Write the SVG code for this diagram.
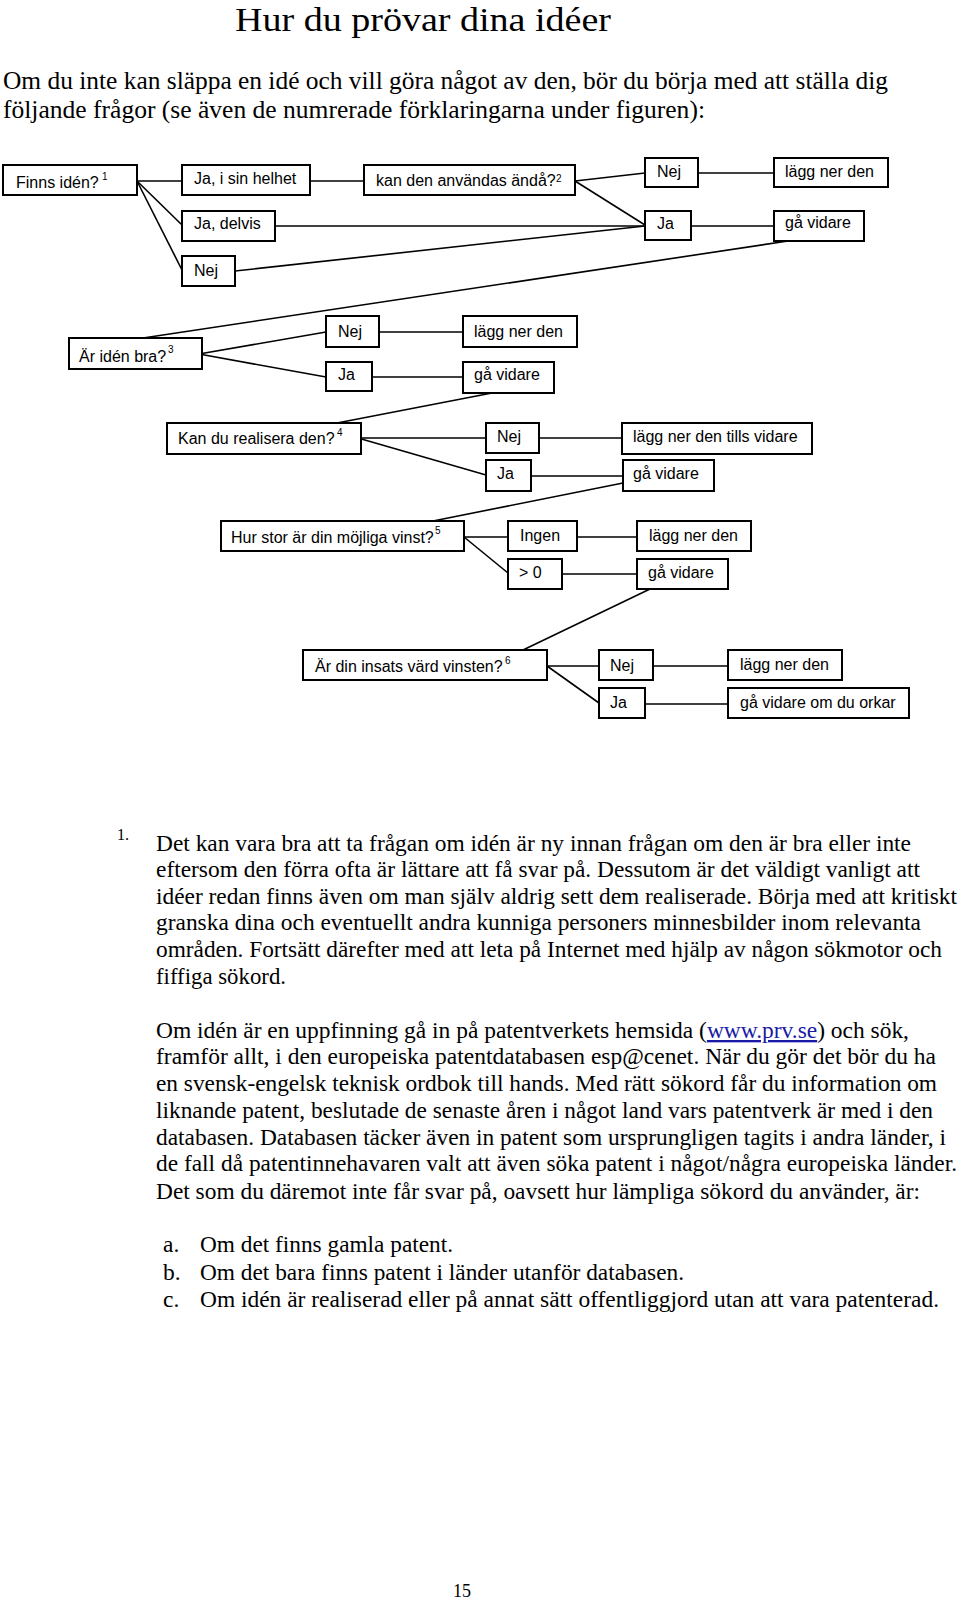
<svg xmlns="http://www.w3.org/2000/svg" width="960" height="1601" viewBox="0 0 960 1601">
<style>
rect.b{fill:#fff;stroke:#000;stroke-width:2}
text.t{font-family:"Liberation Sans",Arial,sans-serif;font-size:16px;fill:#000}
text.s{font-family:"Liberation Sans",Arial,sans-serif;font-size:10px;fill:#000}
text.p{font-family:"Liberation Serif","Times New Roman",serif;font-size:23.5px;fill:#000}
#connectors line{stroke:#000;stroke-width:1.6}
</style>
<rect width="960" height="1601" fill="#fff"/>
<text class="p" x="235" y="31" style="font-size:34px" textLength="376" lengthAdjust="spacingAndGlyphs">Hur du prövar dina idéer</text>
<text class="p" x="3" y="89" style="font-size:25.5px" textLength="885" lengthAdjust="spacingAndGlyphs">Om du inte kan släppa en idé och vill göra något av den, bör du börja med att ställa dig</text>
<text class="p" x="3" y="118" style="font-size:25.5px" textLength="702" lengthAdjust="spacingAndGlyphs">följande frågor (se även de numrerade förklaringarna under figuren):</text>
<g id="connectors">
<line x1="137" y1="181" x2="182" y2="181"/>
<line x1="137" y1="181" x2="182" y2="225"/>
<line x1="137" y1="181" x2="182" y2="270"/>
<line x1="310" y1="181" x2="364" y2="181"/>
<line x1="575" y1="181" x2="645" y2="173"/>
<line x1="575" y1="181" x2="645" y2="225"/>
<line x1="275" y1="226" x2="645" y2="226"/>
<line x1="235" y1="271" x2="645" y2="226"/>
<line x1="698" y1="173" x2="774" y2="173"/>
<line x1="691" y1="226" x2="774" y2="226"/>
<line x1="788" y1="241" x2="143" y2="338"/>
<line x1="199" y1="354" x2="326" y2="332"/>
<line x1="199" y1="354" x2="326" y2="377"/>
<line x1="379" y1="332" x2="463" y2="332"/>
<line x1="372" y1="377" x2="463" y2="377"/>
<line x1="492" y1="393" x2="337" y2="423"/>
<line x1="358" y1="438" x2="486" y2="438"/>
<line x1="358" y1="438" x2="486" y2="475"/>
<line x1="539" y1="438" x2="622" y2="438"/>
<line x1="531" y1="476" x2="623" y2="476"/>
<line x1="623" y1="483" x2="433" y2="521"/>
<line x1="464" y1="537" x2="508" y2="537"/>
<line x1="464" y1="537" x2="508" y2="573"/>
<line x1="577" y1="537" x2="637" y2="537"/>
<line x1="562" y1="574" x2="637" y2="574"/>
<line x1="650" y1="589" x2="523" y2="650"/>
<line x1="547" y1="666" x2="599" y2="666"/>
<line x1="547" y1="666" x2="599" y2="703"/>
<line x1="653" y1="666" x2="728" y2="666"/>
<line x1="645" y1="704" x2="728" y2="704"/>
</g>
<g id="n1"><rect class="b" x="3" y="165" width="134" height="30"/><text class="t" x="16" y="188">Finns idén?</text><text class="s" x="102" y="180">1</text></g>
<g id="n2"><rect class="b" x="182" y="165" width="128" height="30"/><text class="t" x="194" y="184">Ja, i sin helhet</text></g>
<g id="n3"><rect class="b" x="364" y="165" width="211" height="30"/><text class="t" x="376" y="186">kan den användas ändå?</text><text class="s" x="556" y="182">2</text></g>
<g id="n4"><rect class="b" x="645" y="158" width="53" height="29"/><text class="t" x="657" y="177">Nej</text></g>
<g id="n5"><rect class="b" x="774" y="158" width="114" height="29"/><text class="t" x="785" y="177">lägg ner den</text></g>
<g id="n6"><rect class="b" x="182" y="211" width="93" height="30"/><text class="t" x="194" y="229">Ja, delvis</text></g>
<g id="n7"><rect class="b" x="645" y="211" width="46" height="29"/><text class="t" x="657" y="229">Ja</text></g>
<g id="n8"><rect class="b" x="774" y="211" width="90" height="30"/><text class="t" x="785" y="228">gå vidare</text></g>
<g id="n9"><rect class="b" x="182" y="256" width="53" height="30"/><text class="t" x="194" y="276">Nej</text></g>
<g id="n10"><rect class="b" x="69" y="338" width="133" height="31"/><text class="t" x="79" y="362">Är idén bra?</text><text class="s" x="168" y="353">3</text></g>
<g id="n11"><rect class="b" x="326" y="316" width="53" height="31"/><text class="t" x="338" y="337">Nej</text></g>
<g id="n12"><rect class="b" x="326" y="362" width="46" height="29"/><text class="t" x="338" y="380">Ja</text></g>
<g id="n13"><rect class="b" x="463" y="316" width="114" height="31"/><text class="t" x="474" y="337">lägg ner den</text></g>
<g id="n14"><rect class="b" x="463" y="362" width="91" height="31"/><text class="t" x="474" y="380">gå vidare</text></g>
<g id="n15"><rect class="b" x="167" y="423" width="194" height="31"/><text class="t" x="178" y="444">Kan du realisera den?</text><text class="s" x="337" y="436">4</text></g>
<g id="n16"><rect class="b" x="486" y="423" width="53" height="30"/><text class="t" x="497" y="442">Nej</text></g>
<g id="n17"><rect class="b" x="622" y="423" width="190" height="31"/><text class="t" x="633" y="442">lägg ner den tills vidare</text></g>
<g id="n18"><rect class="b" x="486" y="460" width="45" height="31"/><text class="t" x="497" y="479">Ja</text></g>
<g id="n19"><rect class="b" x="623" y="460" width="91" height="31"/><text class="t" x="633" y="479">gå vidare</text></g>
<g id="n20"><rect class="b" x="221" y="521" width="243" height="30"/><text class="t" x="231" y="543">Hur stor är din möjliga vinst?</text><text class="s" x="435" y="534">5</text></g>
<g id="n21"><rect class="b" x="508" y="521" width="69" height="30"/><text class="t" x="520" y="541">Ingen</text></g>
<g id="n22"><rect class="b" x="508" y="559" width="54" height="30"/><text class="t" x="519" y="578">&gt; 0</text></g>
<g id="n23"><rect class="b" x="637" y="521" width="114" height="30"/><text class="t" x="649" y="541">lägg ner den</text></g>
<g id="n24"><rect class="b" x="637" y="559" width="91" height="30"/><text class="t" x="648" y="578">gå vidare</text></g>
<g id="n25"><rect class="b" x="303" y="650" width="244" height="30"/><text class="t" x="315" y="672">Är din insats värd vinsten?</text><text class="s" x="505" y="664">6</text></g>
<g id="n26"><rect class="b" x="599" y="650" width="54" height="30"/><text class="t" x="610" y="671">Nej</text></g>
<g id="n27"><rect class="b" x="728" y="650" width="114" height="30"/><text class="t" x="740" y="670">lägg ner den</text></g>
<g id="n28"><rect class="b" x="599" y="688" width="46" height="30"/><text class="t" x="610" y="708">Ja</text></g>
<g id="n29"><rect class="b" x="728" y="688" width="181" height="30"/><text class="t" x="740" y="708">gå vidare om du orkar</text></g>
<g id="notes">
<text class="p" x="117" y="840" style="font-size:16px">1.</text>
<text class="p" x="156" y="851" textLength="755" lengthAdjust="spacingAndGlyphs">Det kan vara bra att ta frågan om idén är ny innan frågan om den är bra eller inte</text>
<text class="p" x="156" y="877" textLength="764" lengthAdjust="spacingAndGlyphs">eftersom den förra ofta är lättare att få svar på. Dessutom är det väldigt vanligt att</text>
<text class="p" x="156" y="904" textLength="801" lengthAdjust="spacingAndGlyphs">idéer redan finns även om man själv aldrig sett dem realiserade. Börja med att kritiskt</text>
<text class="p" x="156" y="930" textLength="765" lengthAdjust="spacingAndGlyphs">granska dina och eventuellt andra kunniga personers minnesbilder inom relevanta</text>
<text class="p" x="156" y="957" textLength="786" lengthAdjust="spacingAndGlyphs">områden. Fortsätt därefter med att leta på Internet med hjälp av någon sökmotor och</text>
<text class="p" x="156" y="984" textLength="130" lengthAdjust="spacingAndGlyphs">fiffiga sökord.</text>
<text class="p" x="156" y="1038" textLength="753" lengthAdjust="spacingAndGlyphs">Om idén är en uppfinning gå in på patentverkets hemsida (<tspan fill="#1a1aa6" text-decoration="underline">www.prv.se</tspan>) och sök,</text>
<text class="p" x="156" y="1064" textLength="780" lengthAdjust="spacingAndGlyphs">framför allt, i den europeiska patentdatabasen esp@cenet. När du gör det bör du ha</text>
<text class="p" x="156" y="1091" textLength="781" lengthAdjust="spacingAndGlyphs">en svensk-engelsk teknisk ordbok till hands. Med rätt sökord får du information om</text>
<text class="p" x="156" y="1118" textLength="777" lengthAdjust="spacingAndGlyphs">liknande patent, beslutade de senaste åren i något land vars patentverk är med i den</text>
<text class="p" x="156" y="1145" textLength="790" lengthAdjust="spacingAndGlyphs">databasen. Databasen täcker även in patent som ursprungligen tagits i andra länder, i</text>
<text class="p" x="156" y="1171" textLength="801" lengthAdjust="spacingAndGlyphs">de fall då patentinnehavaren valt att även söka patent i något/några europeiska länder.</text>
<text class="p" x="156" y="1199" textLength="764" lengthAdjust="spacingAndGlyphs">Det som du däremot inte får svar på, oavsett hur lämpliga sökord du använder, är:</text>
<text class="p" x="163" y="1252">a.</text>
<text class="p" x="200" y="1252" textLength="253" lengthAdjust="spacingAndGlyphs">Om det finns gamla patent.</text>
<text class="p" x="163" y="1280">b.</text>
<text class="p" x="200" y="1280" textLength="484" lengthAdjust="spacingAndGlyphs">Om det bara finns patent i länder utanför databasen.</text>
<text class="p" x="163" y="1307">c.</text>
<text class="p" x="200" y="1307" textLength="739" lengthAdjust="spacingAndGlyphs">Om idén är realiserad eller på annat sätt offentliggjord utan att vara patenterad.</text>
<text class="p" x="453" y="1597" style="font-size:18px">15</text>
</g>
</svg>
